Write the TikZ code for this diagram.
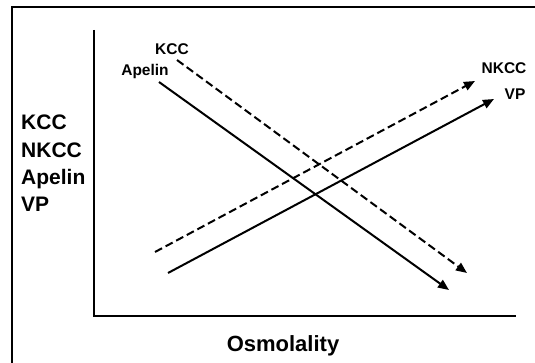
\documentclass[tikz,border=0pt]{standalone}
\usepackage{fontspec}
\setmainfont{Liberation Sans}
\usetikzlibrary{arrows.meta}
\begin{document}
\begin{tikzpicture}[x=1pt,y=-1pt,
  axis/.style={line width=2pt},
  curve/.style={line width=2pt,-{Triangle[length=11pt,width=9pt]}},
  dashcurve/.style={curve,dash pattern=on 8pt off 4pt},
  biglab/.style={font=\bfseries\fontsize{21}{25}\selectfont,inner sep=0pt,anchor=base west},
  smalllab/.style={font=\bfseries\fontsize{15.5}{18}\selectfont,inner sep=0pt,anchor=base}]
\useasboundingbox (0,0) rectangle (535,363);
\draw[line width=2pt] (12,370) -- (12,7) -- (540,7);
\coordinate (ytop) at (94,30);
\coordinate (orig) at (94,316);
\coordinate (xend) at (516,316);
\draw[axis] (ytop) -- (orig) -- (xend);
\coordinate (a1) at (159,82);  \coordinate (a2) at (449,290);
\coordinate (k1) at (177,60);  \coordinate (k2) at (467,273);
\coordinate (n1) at (155,252); \coordinate (n2) at (475,81);
\coordinate (v1) at (168,273); \coordinate (v2) at (494,99);
\draw[curve] (a1) -- (a2);
\draw[dashcurve] (k1) -- (k2);
\draw[dashcurve] (n1) -- (n2);
\draw[curve] (v1) -- (v2);
\node[smalllab] (kcc) at (172,55) {KCC};
\node[smalllab] (apelin) at (145,76) {Apelin};
\node[smalllab] (nkcc) at (504,74) {NKCC};
\node[smalllab] (vp) at (515,100) {VP};
\node[biglab] (l1) at (21,130) {KCC};
\node[biglab] (l2) at (21,158) {NKCC};
\node[biglab] (l3) at (21,185) {Apelin};
\node[biglab] (l4) at (21,212) {VP};
\node[biglab,anchor=base,font=\bfseries\fontsize{22}{26}\selectfont] (osm) at (283,351) {Osmolality};
\end{tikzpicture}
\end{document}
